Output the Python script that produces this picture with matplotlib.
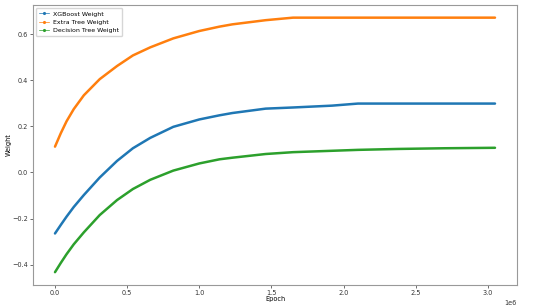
import matplotlib
matplotlib.use("Agg")
import matplotlib.pyplot as plt
from matplotlib.lines import Line2D

# epochs (offset 1e6)
epochs = [0, 40000, 80000, 130000, 200000, 310000, 430000, 540000, 660000,
          820000, 1000000, 1140000, 1230000, 1460000, 1650000, 1920000,
          2100000, 2380000, 2700000, 3050000]

xgb_weight = [-0.265, -0.228, -0.192, -0.150, -0.098, -0.022, 0.050, 0.105,
              0.150, 0.198, 0.230, 0.248, 0.258, 0.277, 0.282, 0.290, 0.299,
              0.299, 0.299, 0.299]
extra_weight = [0.112, 0.170, 0.222, 0.275, 0.335, 0.405, 0.462, 0.508, 0.543,
                0.582, 0.614, 0.633, 0.643, 0.661, 0.672, 0.672, 0.672, 0.672,
                0.672, 0.672]
dt_weight = [-0.433, -0.393, -0.355, -0.312, -0.260, -0.185, -0.120, -0.072,
             -0.032, 0.008, 0.039, 0.057, 0.064, 0.080, 0.088, 0.094, 0.098,
             0.102, 0.105, 0.107]

series = [
    ("XGBoost Weight", xgb_weight, "#1f77b4"),
    ("Extra Tree Weight", extra_weight, "#ff7f0e"),
    ("Decision Tree Weight", dt_weight, "#2ca02c"),
]

fs = 4.7
fig = plt.figure(figsize=(5.5, 3.08), dpi=100)
ax = fig.add_axes([0.06, 0.075, 0.88, 0.909])

handles = []
for label, vals, color in series:
    ax.plot(epochs, vals, color=color, linewidth=1.8, solid_capstyle="round",
            solid_joinstyle="round")
    handles.append(Line2D([], [], color=color, marker=".", markersize=2.5,
                          linewidth=0.5, label=label))

ax.set_xlabel("Epoch", fontsize=fs, labelpad=0.5)
ax.set_ylabel("Weight", fontsize=fs, labelpad=0.5)
ax.tick_params(labelsize=fs, length=2, width=0.5, pad=1.5, colors="#333333")
ax.xaxis.get_offset_text().set_fontsize(fs)
for sp in ax.spines.values():
    sp.set_color("#999999")
    sp.set_linewidth(0.8)

ax.legend(handles=handles, loc="upper left", fontsize=4.5, frameon=True,
          borderpad=0.5, handlelength=1.6, labelspacing=0.45, handletextpad=0.6)

fig.savefig("out.png", dpi=100)
